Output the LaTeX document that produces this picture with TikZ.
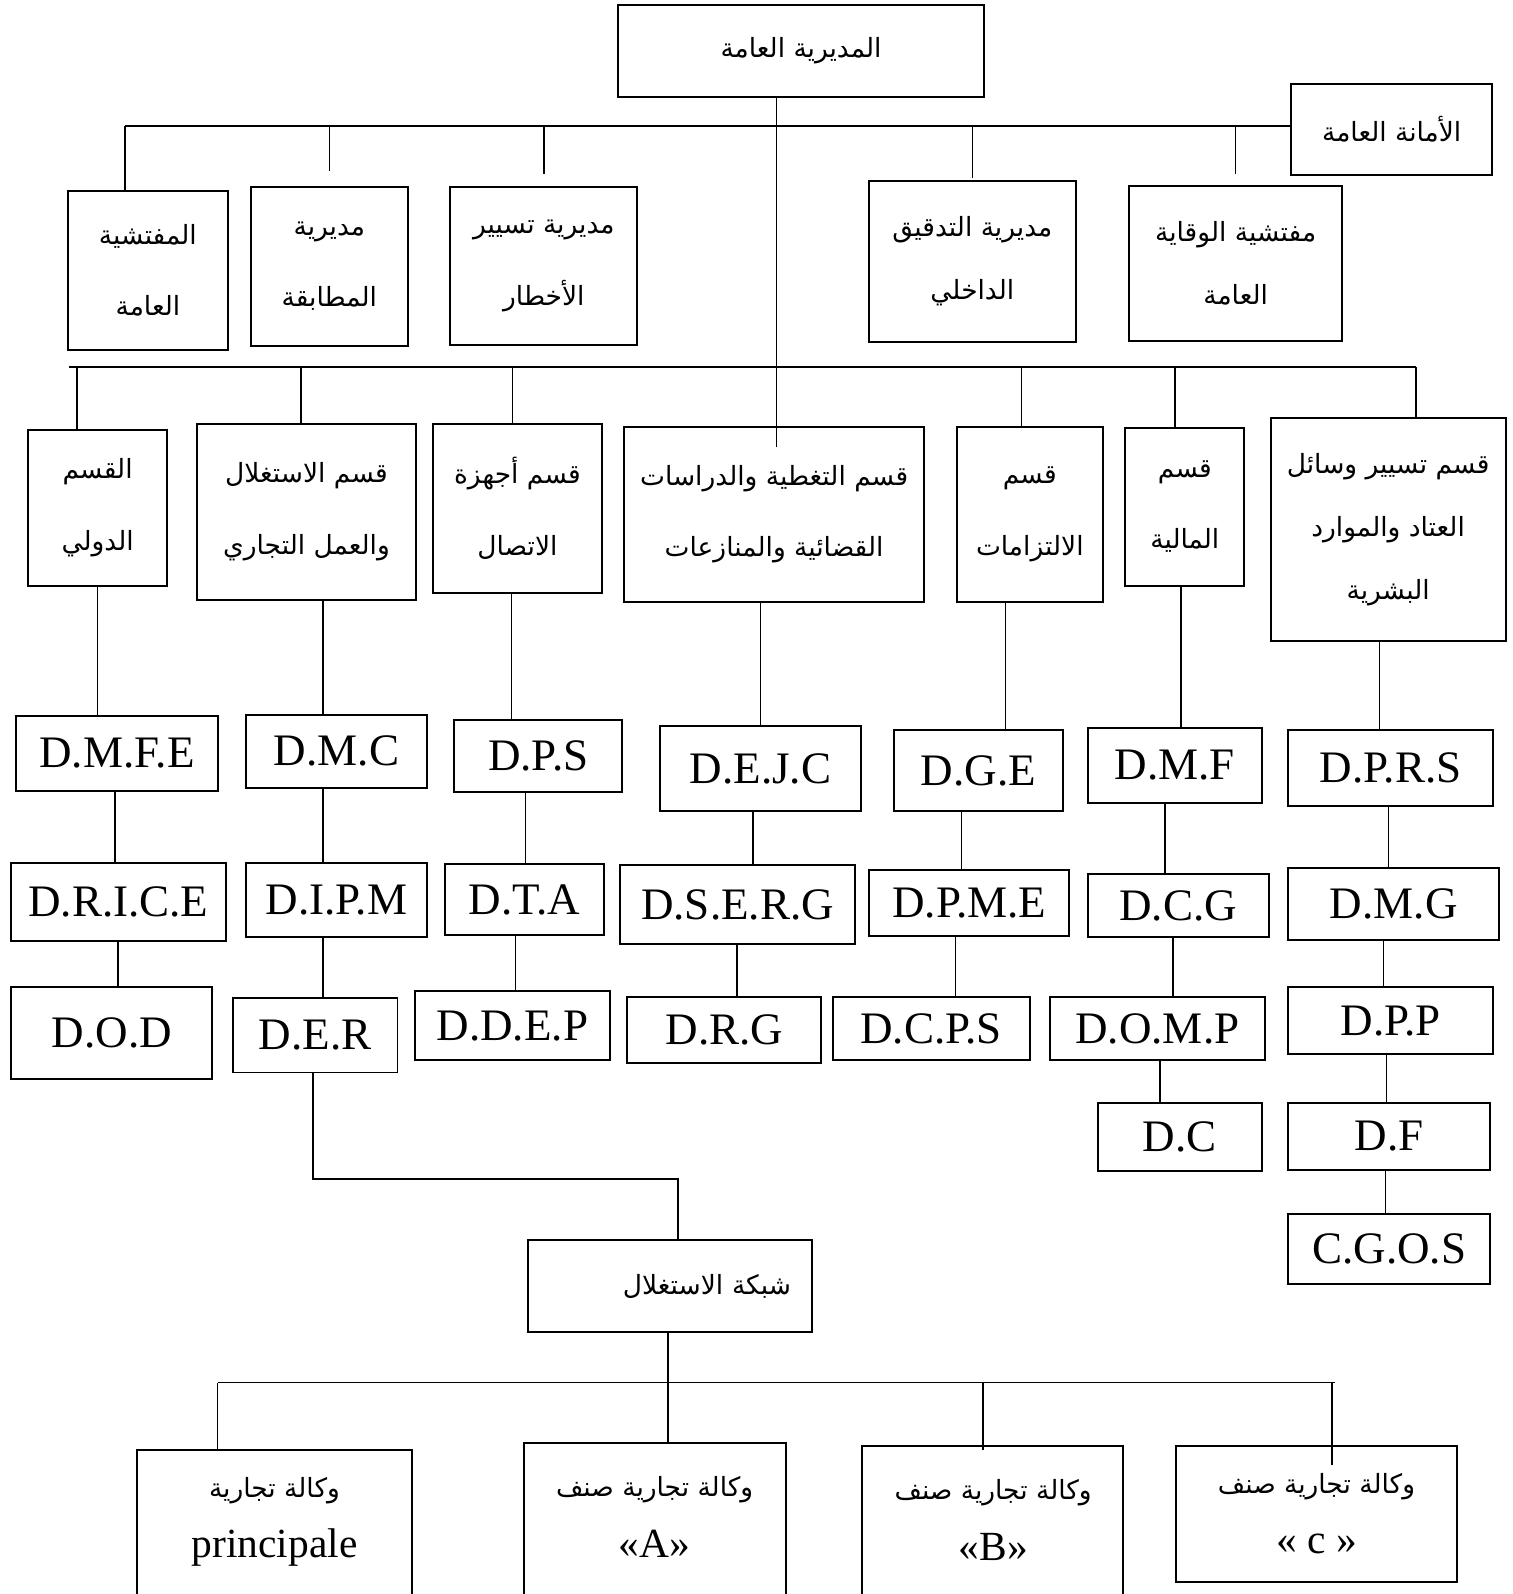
\documentclass[tikz,border=0pt]{standalone}
\usepackage{fontspec}
\setmainfont{Liberation Serif}
\newfontfamily\arabicfont[Script=Arabic]{DejaVu Sans}
\TeXXeTstate=1

\newcommand{\ar}[1]{{\arabicfont\beginR #1\endR}}
\newcommand{\lt}[1]{{\fontsize{11.6}{14}\selectfont #1}}

\begin{document}
\begin{tikzpicture}[x=0.01cm, y=-0.01cm]
        % One unit is one pixel of the chart, y grows downwards
        \tikzset{
            corners/.style args={#1/#2/#3/#4}{
                minimum width={(#3-#1)*0.01cm}, minimum height={(#4-#2)*0.01cm},
                at={({(#1+#3)/2},{(#2+#4)/2})}},
            box/.style={draw, line width=0.55pt, inner sep=0pt, align=center,
                font=\fontsize{7.4}{20}\selectfont},
            dbox/.style={draw, line width=0.55pt, inner sep=0pt,
                font=\fontsize{12.6}{14}\selectfont},
            link/.style={line width=0.45pt},
        }

        \useasboundingbox (0,0) rectangle (1488,1568);
        \clip (0,0) rectangle (1488,1568);

        % General direction and secretariat
        \node[box, corners=608/5/968/95] (dg) {\ar{المديرية العامة}};
        \node[box, corners=1270/83/1468/172] (sg) {\ar{الأمانة العامة}};

        % First row: directions and inspections
        \node[box, corners=67/188/224/344] (ig) {\ar{المفتشية}\\\ar{العامة}};
        \node[box, corners=247/184/401/340] (conf) {\ar{مديرية}\\\ar{المطابقة}};
        \node[box, corners=443/184/627/339] (risk) {\ar{مديرية تسيير}\\\ar{الأخطار}};
        \node[box, corners=855/178/1058/336, font=\fontsize{7.4}{17.6}\selectfont] (audit) {\ar{مديرية التدقيق}\\\ar{الداخلي}};
        \node[box, corners=1111/183/1320/335, font=\fontsize{7.4}{17.6}\selectfont] (prev) {\ar{مفتشية الوقاية}\\\ar{العامة}};

        % Second row: the departments
        \node[box, corners=28/423/164/576] (intl) {\ar{القسم}\\\ar{الدولي}};
        \node[box, corners=194/417/409/590] (expl) {\ar{قسم الاستغلال}\\\ar{والعمل التجاري}};
        \node[box, corners=426/417/592/583] (tele) {\ar{قسم أجهزة}\\\ar{الاتصال}};
        \node[box, corners=614/420/909/592] (couv) {\ar{قسم التغطية والدراسات}\\\ar{القضائية والمنازعات}};
        \node[box, corners=941/420/1085/592] (enga) {\ar{قسم}\\\ar{الالتزامات}};
        \node[box, corners=1107/421/1224/576] (fina) {\ar{قسم}\\\ar{المالية}};
        \node[box, corners=1250/411/1481/631, font=\fontsize{7.4}{17.6}\selectfont] (moy) {\ar{قسم تسيير وسائل}\\\ar{العتاد والموارد}\\\ar{البشرية}};

        % Third row and below: the sub-directions
        \node[dbox, corners=16/704/214/778] (dmfe) {D.M.F.E};
        \node[dbox, corners=11/849/222/926] (drice) {D.R.I.C.E};
        \node[dbox, corners=11/971/209/1061] (dod) {D.O.D};

        \node[dbox, corners=242/703/420/775] (dmc) {D.M.C};
        \node[dbox, corners=242/849/420/922] (dipm) {D.I.P.M};
        \node[dbox, corners=229/982/391/1055] (der) {D.E.R};

        \node[dbox, corners=447/708/612/779] (dps) {D.P.S};
        \node[dbox, corners=438/850/594/920] (dta) {D.T.A};
        \node[dbox, corners=408/975/600/1043] (ddep) {D.D.E.P};

        \node[dbox, corners=649/714/847/798] (dejc) {D.E.J.C};
        \node[dbox, corners=610/851/841/929] (dserg) {D.S.E.R.G};
        \node[dbox, corners=617/981/808/1046] (drg) {D.R.G};

        \node[dbox, corners=879/718/1046/798] (dge) {D.G.E};
        \node[dbox, corners=855/856/1052/921] (dpme) {D.P.M.E};
        \node[dbox, corners=819/981/1013/1043] (dcps) {D.C.P.S};

        \node[dbox, corners=1070/716/1241/790] (dmf) {D.M.F};
        \node[dbox, corners=1070/860/1248/922] (dcg) {D.C.G};
        \node[dbox, corners=1033/981/1244/1043] (domp) {D.O.M.P};
        \node[dbox, corners=1080/1085/1241/1152] (dc) {D.C};

        \node[dbox, corners=1267/718/1469/793] (dprs) {D.P.R.S};
        \node[dbox, corners=1267/854/1475/925] (dmg) {D.M.G};
        \node[dbox, corners=1267/971/1469/1037] (dpp) {D.P.P};
        \node[dbox, corners=1267/1085/1466/1151] (df) {D.F};
        \node[dbox, corners=1267/1194/1466/1263] (cgos) {C.G.O.S};

        % Network and the agencies (cut by the page bottom)
        \node[box, corners=519/1220/799/1310, text width=2.38cm, align=right] (net) {\ar{شبكة الاستغلال}};
        \node[box, corners=135/1426/405/1640] (agp) {};
        \node[box, corners=515/1419/773/1640] (aga) {};
        \node[box, corners=848/1422/1105/1640] (agb) {};
        \node[box, corners=1157/1422/1433/1556, font=\fontsize{7.4}{17}\selectfont] (agc) {\ar{وكالة تجارية صنف}\\\lt{« c »}};
        \node[align=center, font=\fontsize{7.4}{17}\selectfont] (agpt) at (270,1497) {\ar{وكالة تجارية}\\\lt{principale}};
        \node[align=center, font=\fontsize{7.4}{17}\selectfont] (agat) at (644,1492) {\ar{وكالة تجارية صنف}\\\lt{«A»}};
        \node[align=center, font=\fontsize{7.4}{17}\selectfont] (agbt) at (977,1495) {\ar{وكالة تجارية صنف}\\\lt{«B»}};

        % Bus lines
        \coordinate (busT) at (123,124);
        \coordinate (busM) at (68,361);
        \coordinate (busMr) at (1393,361);
        \coordinate (trunk) at (764,440);
        \coordinate (elbow) at (667,1160);
        \coordinate (busB) at (214,1360);
        \coordinate (busBr) at (1313,1360);

        \begin{scope}[link]
            \draw (busT) -- (busT -| sg.west);
            \draw (dg.south -| trunk) -- (trunk);
            \draw (busT) -- (busT |- ig.north);
            \foreach \n/\l in {conf/44, risk/47, audit/51, prev/47}
                \draw (busT -| \n.north) -- ++(0,\l);

            \draw (busM) -- (busMr);
            \foreach \x/\n in {76/intl, 296/expl, 504/tele, 1005/enga, 1156/fina, 1393/moy}
                \draw (\x,361) -- (\x,0 |- \n.north);

            % Vertical links down each column
            \foreach \x/\a/\b in {96/intl/dmfe, 113/dmfe/drice, 116/drice/dod,
                    318/expl/dmc, 318/dmc/dipm, 318/dipm/der,
                    503/tele/dps, 517/dps/dta, 507/dta/ddep,
                    748/couv/dejc, 741/dejc/dserg, 725/dserg/drg,
                    989/enga/dge, 946/dge/dpme, 940/dpme/dcps,
                    1162/fina/dmf, 1146/dmf/dcg, 1154/dcg/domp, 1141/domp/dc,
                    1357/moy/dprs, 1366/dprs/dmg, 1361/dmg/dpp, 1364/dpp/df, 1363/df/cgos}
                \draw (\x,0 |- \a.south) -- (\x,0 |- \b.north);

            % Exploitation network
            \draw (308,0 |- der.south) |- (elbow) -- (elbow |- net.north);
            \draw (657,0 |- net.south) -- (657,0 |- aga.north);
            \draw (busB) -- (busBr);
            \draw (busB) -- (busB |- agp.north);
            \draw (967,1360) -- (967,1426);
            \draw (1310,1360) -- (1310,1441);
        \end{scope}

\end{tikzpicture}
\end{document}
